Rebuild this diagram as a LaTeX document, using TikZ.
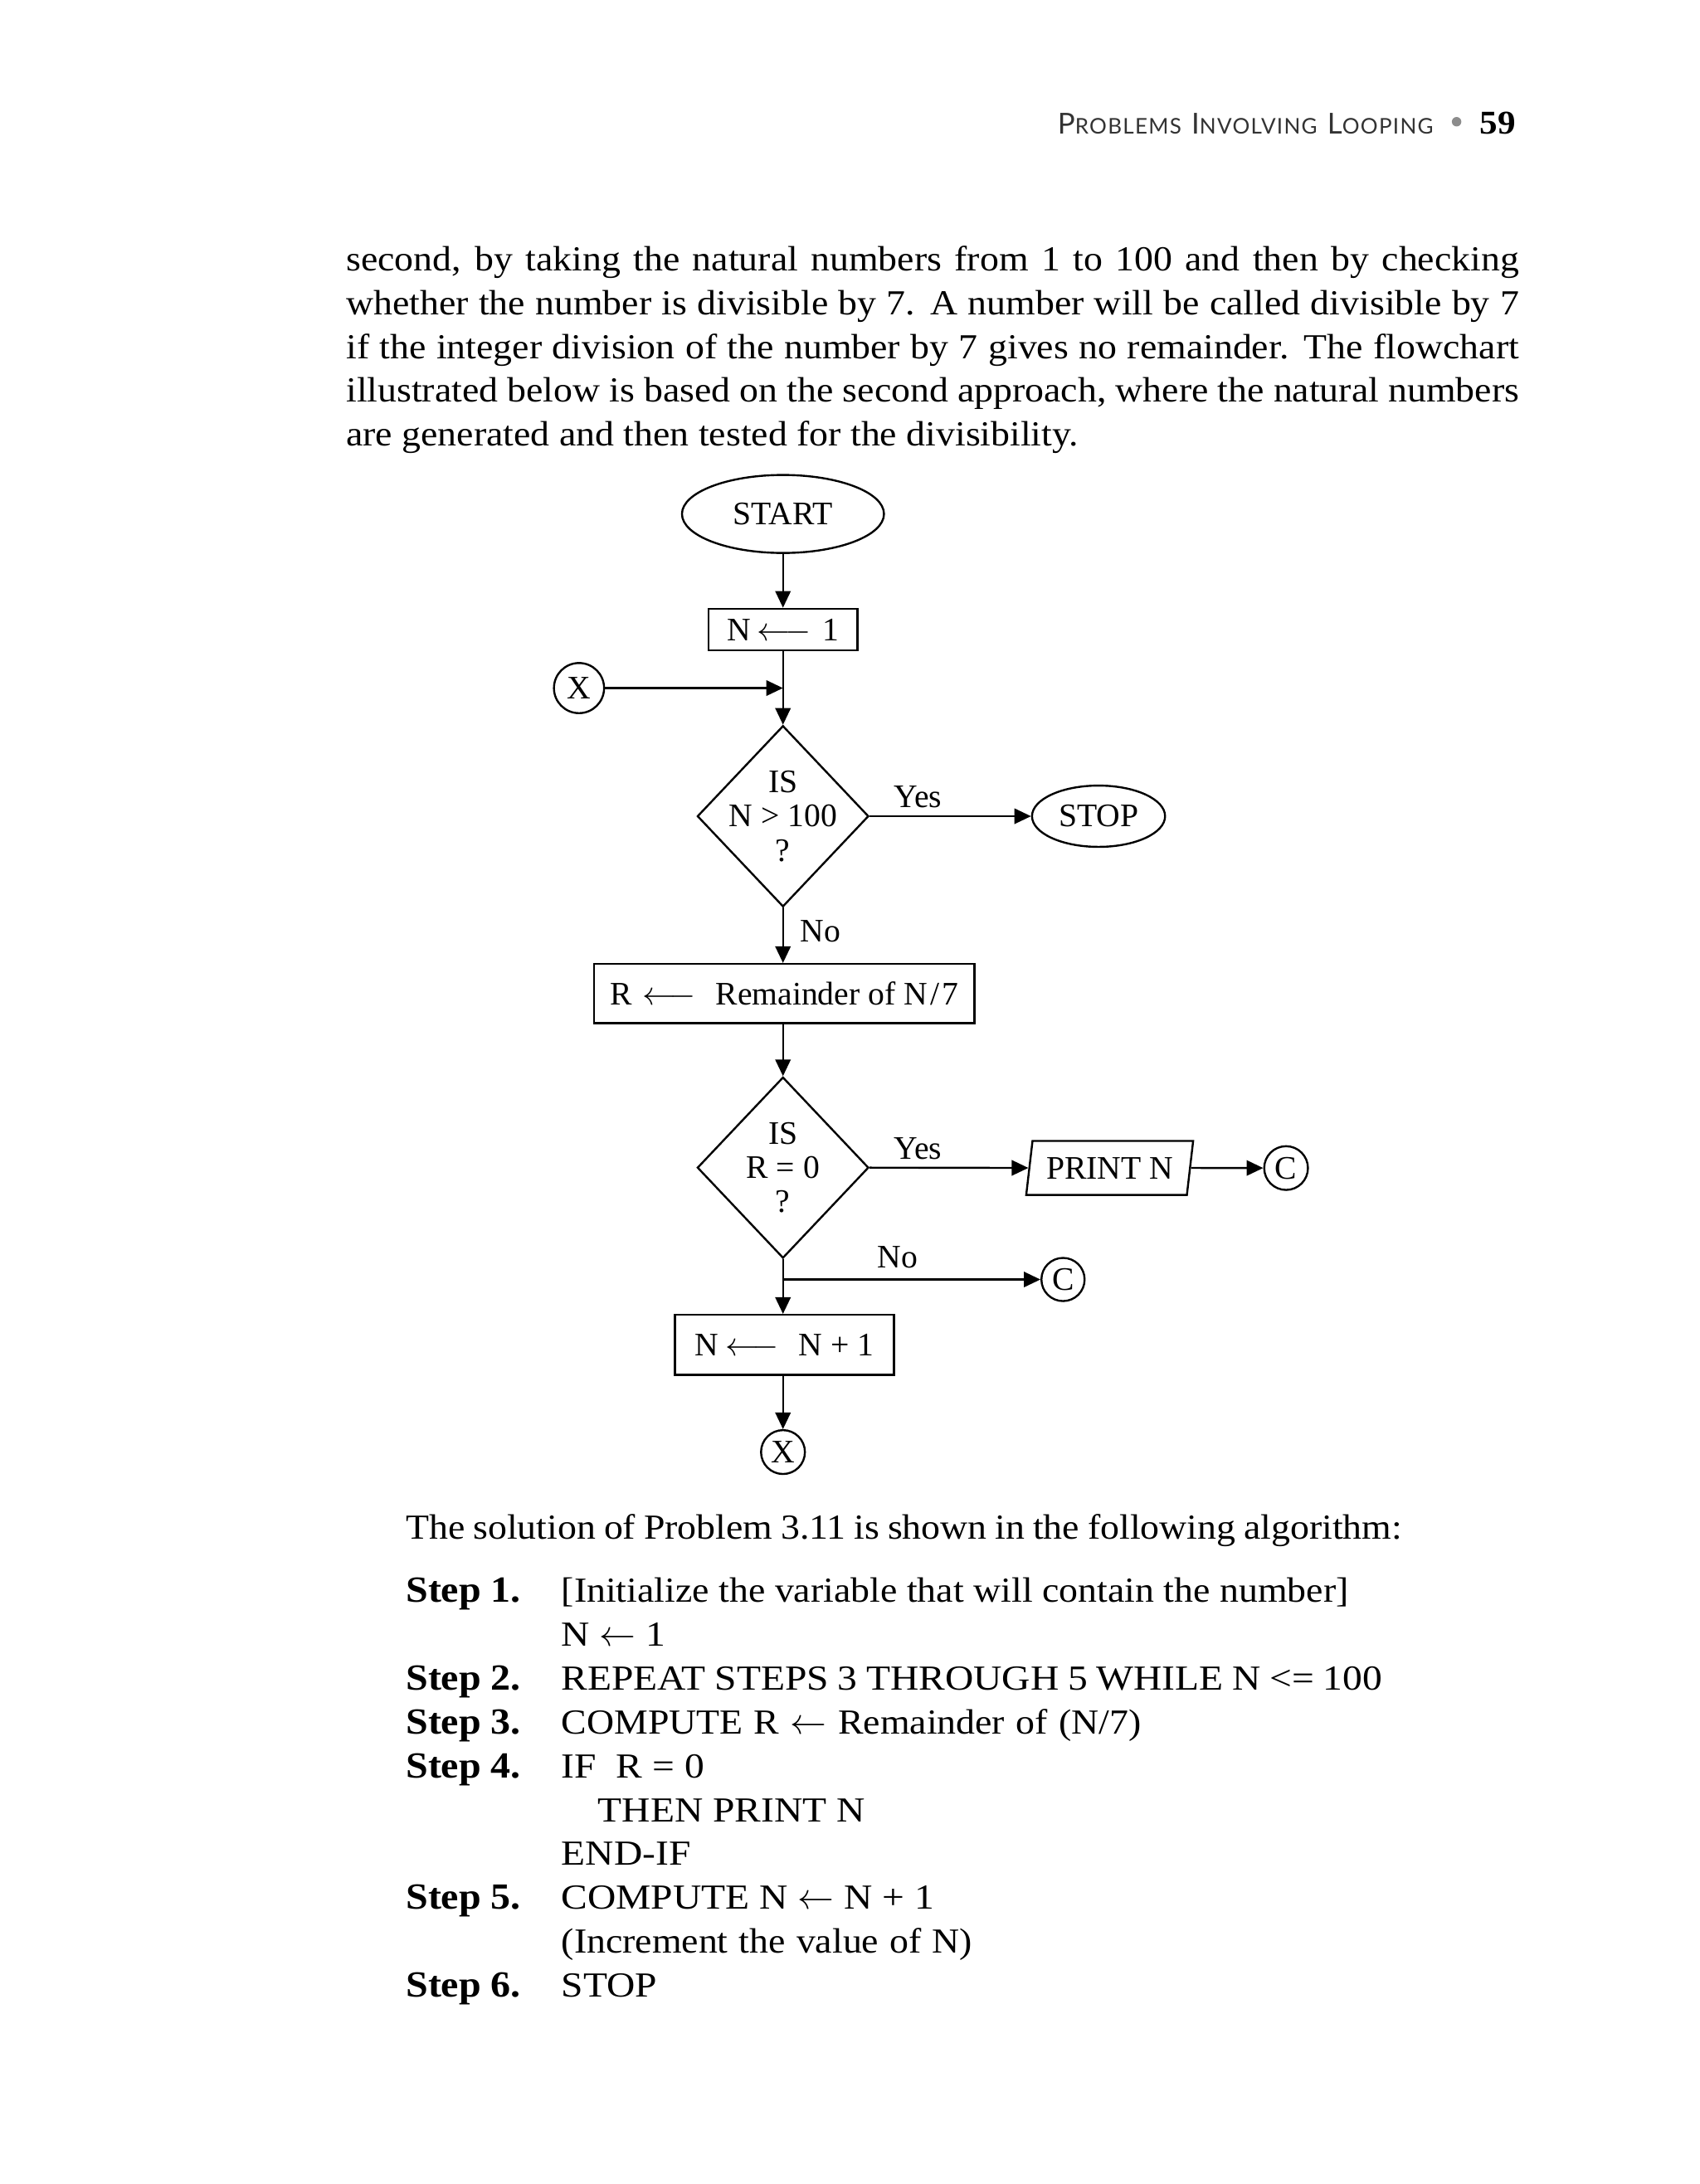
\documentclass[tikz,border=0pt]{standalone}
\usepackage{fontspec}
\setmainfont[FakeStretch=1.08]{Liberation Serif}
\newfontfamily\capsf[FakeStretch=1.12]{Liberation Serif}
\newfontfamily\flowfont{Liberation Serif}
\newfontfamily\headfont[LetterSpace=5]{Lato}
\usetikzlibrary{shapes.geometric,arrows.meta}
\definecolor{headgray}{gray}{0.2}
\definecolor{dotgray}{gray}{0.55}
\def\pxu{0.41967pt}
\newcommand\hsc[2]{{\fontsize{8.7}{10}\selectfont #1}{\fontsize{6.5}{10}\selectfont #2}}
\newcommand\fitw[2]{\makebox[#1\dimexpr\pxu\relax][s]{#2}}
\newcommand\steplbl[1]{{\fontsize{11.1}{13.2}\selectfont\bfseries #1}}
\begin{document}
\begin{tikzpicture}[x=0.41967pt,y=-0.41967pt,
  line width=0.6pt,
  flowtext/.style={font=\flowfont\fontsize{9.9}{10.3}\selectfont},
  flow/.style={flowtext, inner sep=0pt, draw},
  procbox/.style={flow, rectangle},
  termin/.style={flow, ellipse},
  decide/.style={flow, diamond},
  conn/.style={flow, circle},
  iobox/.style={flow, trapezium, trapezium left angle=76.5, trapezium right angle=103.5, trapezium stretches=true},
  arr/.style={-{Triangle[length=5pt,width=4.6pt]}},
  lbl/.style={flowtext, inner sep=0pt, anchor=base west},
  dtext/.style={flowtext, inner sep=0pt, align=center},
  bodyline/.style={font=\fontsize{10.6}{13.2}\selectfont, inner sep=0pt, anchor=base west},
  capsline/.style={font=\capsf\fontsize{10.6}{13.2}\selectfont, inner sep=0pt, anchor=base west},
]
\fill[white] (0,0) rectangle (1220,1568);
\useasboundingbox (0,0) rectangle (1220,1568);

% header
\node[anchor=base west, inner sep=0pt, text=headgray, font=\headfont] (head) at (758.5,96.3)
  {\hsc{P}{ROBLEMS} \hsc{I}{NVOLVING} \hsc{L}{OOPING}};
\node[circle, fill=dotgray, inner sep=0pt, minimum size={6.8*\pxu}] (dot) at (1045.5,87.4) {};
\node[anchor=base east, inner sep=0pt, font=\bfseries\fontsize{10}{12}\selectfont] (pg) at (1088.5,96.3) {59};

% body paragraph
\node[bodyline] (b1) at (247.8,194.3) {\makebox[353.3pt][s]{second, by taking the natural numbers from 1 to 100 and then by checking}};
\node[bodyline] (b2) at (247.8,225.8) {\makebox[353.3pt][s]{whether the number is divisible by 7. A number will be called divisible by 7}};
\node[bodyline] (b3) at (247.8,257.3) {\makebox[353.3pt][s]{if the integer division of the number by 7 gives no remainder. The flowchart}};
\node[bodyline] (b4) at (247.8,288.8) {\makebox[353.3pt][s]{illustrated below is based on the second approach, where the natural numbers}};
\node[bodyline] (b5) at (247.8,320.3) {are generated and then tested for the divisibility.};

% flowchart
\node[termin, minimum width={145*\pxu}, minimum height={56*\pxu}] (start) at (562,369) {START};
\node[procbox, minimum width={107*\pxu}, minimum height={30*\pxu}] (n1) at (562,452) {N\kern2pt$\longleftarrow$\kern3.5pt1};
\node[conn, minimum size={36*\pxu}] (xa) at (415.6,494) {X};
\coordinate (j1) at (562,494);
\node[decide, minimum width={123*\pxu}, minimum height={130*\pxu},
  label={[dtext]center:{IS\\N > 100\\?}}] (d1) at (562,586) {};
\node[termin, minimum width={95.5*\pxu}, minimum height={44*\pxu}] (stop) at (788.5,586) {STOP};
\node[lbl] (yes1) at (641,580) {Yes};
\node[lbl] (no1) at (573.6,676) {No};
\node[procbox, minimum width={273*\pxu}, minimum height={42.5*\pxu}] (rbox) at (563,713.3)
  {R\kern3pt$\longleftarrow$\kern6pt Remainder of N\kern0.8pt/\kern0.8pt7};
\node[decide, minimum width={123*\pxu}, minimum height={130*\pxu},
  label={[dtext]center:{IS\\R = 0\\?}}] (d2) at (562,838.3) {};
\node[lbl] (yes2) at (641,832) {Yes};
\node[iobox, minimum width={120.3*\pxu}, minimum height={38.8*\pxu}] (print) at (796.5,838.5) {PRINT N};
\node[conn, minimum size={31.4*\pxu}] (c1) at (923.1,838.6) {C};
\node[lbl] (no2) at (629,910) {No};
\coordinate (j2) at (562,918.6);
\node[conn, minimum size={31*\pxu}] (c2) at (763,918.6) {C};
\node[procbox, minimum width={157.3*\pxu}, minimum height={43*\pxu}] (n2) at (563,965.5)
  {N\kern2pt$\longleftarrow$\kern6pt N + 1};
\node[conn, minimum size={31.5*\pxu}] (xb) at (562,1042.5) {X};

\draw[arr] (start) -- (n1);
\draw (n1) -- (j1);
\draw[arr] (j1) -- (d1.north);
\draw[arr] (xa) -- (j1);
\draw[arr] (d1.east) -- (stop.west);
\draw[arr] (d1.south) -- (d1.south |- rbox.north);
\draw[arr] (d2.north |- rbox.south) -- (d2.north);
\draw[arr] (d2.east) -- (print.left side);
\draw[arr] (print.right side) -- (c1);
\draw (d2.south) -- (j2);
\draw[arr] (j2) -- (j2 |- n2.north);
\draw[arr] (j2) -- (c2);
\draw[arr] (xb.north |- n2.south) -- (xb);

% algorithm
\node[bodyline] (intro) at (290.7,1104.8) {\fitw{715}{The solution of Problem 3.11 is shown in the following algorithm:}};
\node[bodyline] (s1) at (290.7,1150.5) {\steplbl{Step 1.}};
\node[bodyline] (t1) at (402.3,1150.5) {\fitw{565}{[Initialize the variable that will contain the number]}};
\node[capsline] (t1b) at (402.3,1182.0) {N $\leftarrow$ 1};
\node[bodyline] (s2) at (290.7,1213.4) {\steplbl{Step 2.}};
\node[capsline] (t2) at (402.3,1213.4) {\fitw{589}{REPEAT STEPS 3 THROUGH 5 WHILE N <= 100}};
\node[bodyline] (s3) at (290.7,1244.9) {\steplbl{Step 3.}};
\node[bodyline] (t3) at (402.3,1244.9) {\fitw{416}{COMPUTE R $\leftarrow$ Remainder of (N/7)}};
\node[bodyline] (s4) at (290.7,1276.3) {\steplbl{Step 4.}};
\node[capsline] (t4) at (402.3,1276.3) {IF\hspace{6pt}R = 0};
\node[capsline] (t4b) at (428.5,1307.8) {THEN PRINT N};
\node[capsline] (t4c) at (402.3,1339.3) {END-IF};
\node[bodyline] (s5) at (290.7,1370.7) {\steplbl{Step 5.}};
\node[capsline] (t5) at (402.3,1370.7) {COMPUTE N $\leftarrow$ N + 1};
\node[bodyline] (t5b) at (402.3,1402.2) {\fitw{295}{(Increment the value of N)}};
\node[bodyline] (s6) at (290.7,1433.6) {\steplbl{Step 6.}};
\node[capsline] (t6) at (402.3,1433.6) {STOP};
\end{tikzpicture}
\end{document}
